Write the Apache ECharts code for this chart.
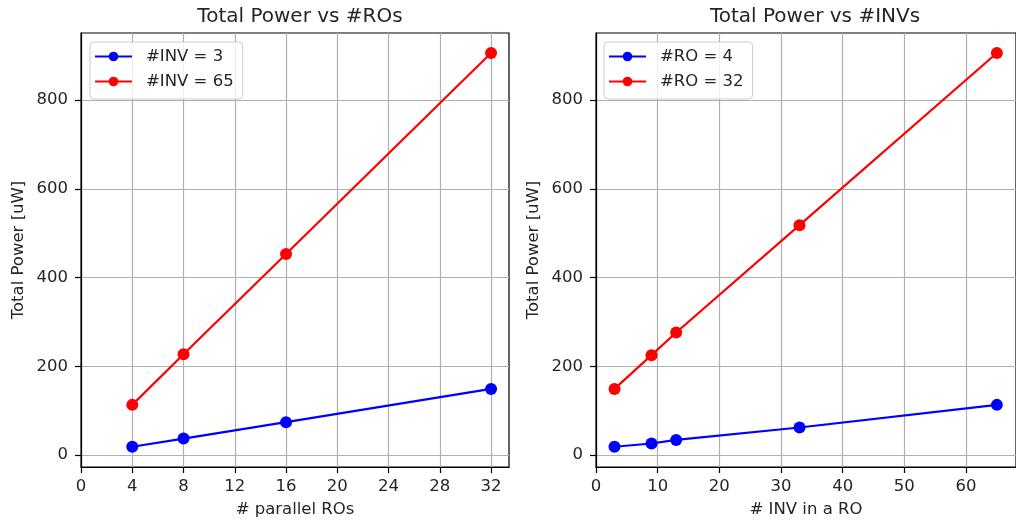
<!DOCTYPE html>
<html><head><meta charset="utf-8">
<script src="https://cdn.jsdelivr.net/npm/echarts@6/dist/echarts.min.js"></script>
<style>html,body{margin:0;padding:0;background:#fff}#c{width:1016px;height:523px}</style>
</head><body><div id="c"></div>
<script>
const rosX = [4, 8, 16, 32];
const inv3 = [18.6, 37, 74, 149];
const inv65 = [113, 227, 453, 906];
const invX = [3, 9, 13, 33, 65];
const ro4 = [18.6, 26, 34, 62, 113];
const ro32 = [149, 225, 276, 518, 906];
const xTicksLeft = [0, 4, 8, 12, 16, 20, 24, 28, 32];
const xTicksRight = [0, 10, 20, 30, 40, 50, 60];
const yTicks = [0, 200, 400, 600, 800];

const font = 'DejaVu Sans';
const txt = '#262626';
const fs = 16.5;
function xAxis(idx, name, ticks, max) {
  return {
    type: 'value', gridIndex: idx, min: 0, max: max, name: name,
    nameLocation: 'middle', nameGap: 34,
    nameTextStyle: {fontFamily: font, fontSize: fs, color: txt},
    axisLine: {show: true, onZero: false, lineStyle: {color: '#000', width: 1.2}},
    axisTick: {show: true, length: 6, customValues: ticks, lineStyle: {color: '#000', width: 1.2}},
    axisLabel: {customValues: ticks, margin: 11, fontFamily: font, fontSize: fs, color: txt},
    splitLine: {show: true, lineStyle: {color: '#b0b0b0', width: 1.2}}
  };
}
function yAxis(idx) {
  return {
    type: 'value', gridIndex: idx, min: -27, max: 951, name: 'Total Power [uW]',
    nameLocation: 'middle', nameGap: 54,
    nameTextStyle: {fontFamily: font, fontSize: fs, color: txt},
    axisLine: {show: true, onZero: false, lineStyle: {color: '#000', width: 1.2}},
    axisTick: {show: true, length: 6, customValues: yTicks, lineStyle: {color: '#000', width: 1.2}},
    axisLabel: {customValues: yTicks, margin: 13, fontFamily: font, fontSize: fs, color: txt},
    splitLine: {show: true, lineStyle: {color: '#b0b0b0', width: 1.2}}
  };
}
function series(name, xs, ys, color, idx) {
  return {
    type: 'line', name: name, xAxisIndex: idx, yAxisIndex: idx,
    data: xs.map((x, i) => [x, ys[i]]),
    symbol: 'circle', symbolSize: 12, showSymbol: true,
    itemStyle: {color: color}, lineStyle: {color: color, width: 2.2},
    emphasis: {disabled: true}, animation: false
  };
}
function legend(names, left) {
  return {
    data: names, orient: 'vertical', left: left, top: 42,
    itemWidth: 37, itemHeight: 12, itemGap: 8,
    padding: [6, 9, 9, 4],
    backgroundColor: 'rgba(255,255,255,0.8)', borderColor: '#cccccc', borderWidth: 1, borderRadius: 4,
    textStyle: {fontFamily: font, fontSize: fs, color: txt, padding: [0, 0, 0, 9]}
  };
}
const chart = echarts.init(document.getElementById('c'), null, {renderer: 'canvas'});
chart.setOption({
  animation: false,
  title: [
    {text: 'Total Power vs #ROs', left: 295, top: 2, textAlign: 'center',
     textStyle: {fontFamily: font, fontSize: 20, fontWeight: 'normal', color: txt}},
    {text: 'Total Power vs #INVs', left: 810, top: 2, textAlign: 'center',
     textStyle: {fontFamily: font, fontSize: 20, fontWeight: 'normal', color: txt}}
  ],
  grid: [
    {left: 81, top: 33, width: 428, height: 434, show: true, borderColor: '#000', borderWidth: 1.2, backgroundColor: '#fff'},
    {left: 596, top: 33, width: 429, height: 434, show: true, borderColor: '#000', borderWidth: 1.2, backgroundColor: '#fff'}
  ],
  xAxis: [xAxis(0, '# parallel ROs', xTicksLeft, 33.4), xAxis(1, '# INV in a RO', xTicksRight, 68.1)],
  yAxis: [yAxis(0), yAxis(1)],
  legend: [legend(['#INV = 3', '#INV = 65'], 90), legend(['#RO = 4', '#RO = 32'], 604)],
  series: [
    series('#INV = 3', rosX, inv3, '#0000ff', 0),
    series('#INV = 65', rosX, inv65, '#ff0000', 0),
    series('#RO = 4', invX, ro4, '#0000ff', 1),
    series('#RO = 32', invX, ro32, '#ff0000', 1)
  ]
});
</script></body></html>
